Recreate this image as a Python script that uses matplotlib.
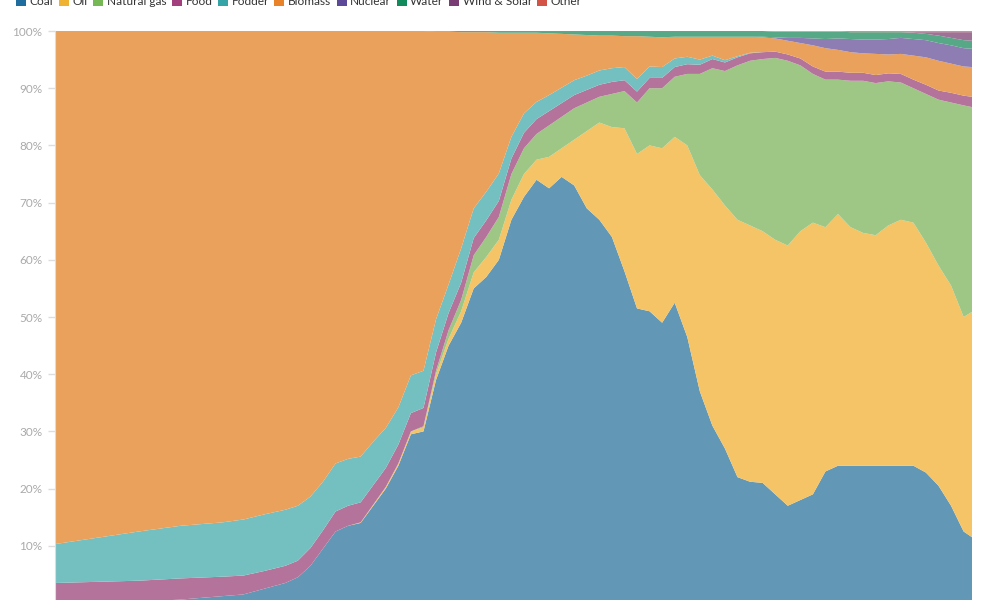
import numpy as np
import matplotlib
matplotlib.use("Agg")
import matplotlib.pyplot as plt
from matplotlib.patches import Patch
from matplotlib.ticker import FuncFormatter

plt.rcParams['font.family'] = ['Lato', 'DejaVu Sans']

# share of primary energy (%)
years = [1800, 1810, 1820, 1830, 1840, 1845, 1850, 1855, 1858,
         1861, 1864, 1867, 1870, 1873, 1876, 1879, 1882, 1885, 1888,
         1891, 1894, 1897, 1900, 1903, 1906, 1909, 1912, 1915, 1918,
         1921, 1924, 1927, 1930, 1933, 1936, 1939, 1942, 1945, 1948,
         1951, 1954, 1957, 1960, 1963, 1966, 1969, 1972, 1975, 1978,
         1981, 1984, 1987, 1990, 1993, 1996, 1999, 2002, 2005, 2008,
         2011, 2014, 2017, 2019]

coal = [0, 0.1, 0.2, 0.6, 1.2, 1.5, 2.5, 3.5, 4.5,
        6.5, 9.5, 12.5, 13.5, 14, 17, 20, 24, 29.5, 30,
        39, 45, 49, 55, 57, 60, 67, 71, 74, 72.5,
        74.5, 73, 69, 67, 64, 58, 51.5, 51, 49, 52.5,
        46.5, 37, 31, 27, 22, 21.2, 21, 19, 17, 18,
        19, 23, 24, 24, 24, 24, 24, 24, 24, 22.8,
        20.5, 17, 12.5, 11.5]
oil = [0, 0, 0, 0, 0, 0, 0, 0, 0,
       0, 0, 0, 0, 0.1, 0.2, 0.3, 0.4, 0.5, 0.7,
       1.0, 1.2, 2.0, 2.8, 3.5, 3.5, 3.5, 4.0, 3.5, 5.5,
       5.0, 8.0, 13.5, 17, 19.2, 25, 27, 29, 30.5, 29,
       33.5, 37.8, 41.3, 42.5, 45, 44.8, 44, 44.5, 45.5, 47,
       47.5, 42.7, 44, 41.7, 40.7, 40.3, 42, 43, 42.5, 40.2,
       38.5, 38.5, 37.5, 39.4]
natural_gas = [0, 0, 0, 0, 0, 0, 0, 0, 0,
               0, 0, 0, 0, 0, 0, 0, 0, 0, 0.2,
               0.6, 1.5, 2.0, 3.0, 3.5, 4.0, 4.5, 4.5, 4.5, 5.5,
               5.5, 5.5, 5.0, 4.5, 5.8, 6.5, 9.0, 10.0, 10.5, 10.5,
               12.5, 17.7, 21.2, 23.5, 27, 28.8, 30.1, 31.8, 32.3, 29,
               26, 25.8, 23.5, 25.6, 26.6, 26.6, 25.2, 24, 23.5, 26,
               29, 32, 37, 35.8]
food = [3.5, 3.6, 3.7, 3.7, 3.4, 3.3, 3.1, 3.0, 2.9,
        3.1, 3.2, 3.5, 3.5, 3.5, 3.4, 3.3, 3.3, 3.2, 3.2,
        3.2, 3.0, 3.0, 3.0, 2.9, 2.8, 2.7, 2.7, 2.6, 2.5,
        2.4, 2.3, 2.2, 2.1, 2.1, 1.9, 1.9, 1.8, 1.8, 1.7,
        1.7, 1.6, 1.6, 1.5, 1.4, 1.3, 1.2, 1.1, 1.1, 1.2,
        1.3, 1.4, 1.4, 1.4, 1.4, 1.4, 1.4, 1.5, 1.5, 1.6,
        1.6, 1.7, 1.7, 1.8]
fodder = [6.8, 7.7, 8.6, 9.2, 9.5, 9.8, 9.9, 9.8, 9.6,
          9.0, 8.5, 8.4, 8.2, 8.0, 7.6, 7.0, 6.5, 6.6, 6.5,
          5.8, 5.0, 6.0, 5.2, 5.0, 4.8, 3.8, 3.4, 3.0, 2.8,
          2.7, 2.6, 2.5, 2.5, 2.4, 2.3, 2.2, 2.0, 1.9, 1.5,
          1.3, 0.9, 0.6, 0.4, 0.2, 0.1, 0, 0, 0, 0,
          0, 0, 0, 0, 0, 0, 0, 0, 0, 0,
          0, 0, 0, 0]
biomass = [89.7, 88.6, 87.5, 86.5, 85.9, 85.4, 84.5, 83.7, 83.0,
           81.4, 78.8, 75.6, 74.8, 74.4, 71.8, 69.4, 65.8, 60.2, 59.4,
           50.3, 44.2, 37.8, 30.8, 27.9, 24.6, 18.2, 14.1, 12.1, 10.8,
           9.4, 8.0, 7.1, 6.1, 5.7, 5.4, 7.5, 5.2, 5.2, 3.8,
           3.5, 4.0, 3.3, 4.1, 3.4, 2.8, 2.6, 2.3, 2.4, 2.7,
           3.7, 4.1, 3.8, 3.6, 3.4, 3.7, 3.3, 3.5, 4.2, 4.8,
           5.2, 5.1, 5.1, 5.2]
nuclear = [0, 0, 0, 0, 0, 0, 0, 0, 0,
           0, 0, 0, 0, 0, 0, 0, 0, 0, 0,
           0, 0, 0, 0, 0, 0, 0, 0, 0, 0,
           0, 0, 0, 0, 0, 0, 0, 0, 0, 0,
           0, 0, 0, 0, 0, 0, 0.1, 0.2, 0.5, 0.9,
           1.2, 1.6, 2.0, 2.3, 2.4, 2.5, 2.7, 2.8, 2.9, 3.0,
           3.1, 3.2, 3.2, 3.2]
water = [0, 0, 0, 0, 0, 0, 0, 0, 0,
         0, 0, 0, 0, 0, 0, 0, 0, 0, 0,
         0.1, 0.1, 0.2, 0.2, 0.2, 0.3, 0.3, 0.3, 0.3, 0.4,
         0.5, 0.6, 0.7, 0.8, 0.8, 0.9, 0.9, 1.0, 1.1, 1.0,
         1.0, 1.0, 1.0, 1.0, 1.0, 1.0, 1.0, 1.0, 1.1, 1.1,
         1.2, 1.3, 1.2, 1.2, 1.3, 1.3, 1.2, 1.0, 1.1, 1.1,
         1.3, 1.3, 1.4, 1.4]
wind_solar = [0] * 57 + [0.1, 0.3, 0.6, 1.0, 1.4, 1.5]
other = [0] * 46 + [0.1] * 6 + [0.2] * 11

labels = ['Coal', 'Oil', 'Natural gas', 'Food', 'Fodder', 'Biomass',
          'Nuclear', 'Water', 'Wind & Solar', 'Other']
legend_colors = ['#1f6c9f', '#f0b232', '#76b756', '#a2407e', '#35a4a6',
                 '#e8832a', '#5c4a98', '#138a5c', '#7a3d73', '#d35446']
area_colors = ['#6297b5', '#f4c466', '#9ec785', '#b4739a', '#74c0c1',
               '#e9a15c', '#8d7db3', '#57a886', '#9e7197', '#e08b7f']

series = np.array([coal, oil, natural_gas, food, fodder, biomass,
                   nuclear, water, wind_solar, other], dtype=float)
series = series / series.sum(axis=0) * 100

fig = plt.figure(figsize=(10, 6), dpi=100)
ax = fig.add_axes([0.055, -0.005, 0.917, 0.9533])

ax.stackplot(years, series, colors=area_colors, linewidth=0)

ax.set_xlim(years[0], years[-1])
ax.set_ylim(0, 100)
ax.set_yticks(range(0, 101, 10))
ax.yaxis.set_major_formatter(FuncFormatter(lambda v, p: f"{int(v)}%"))
ax.tick_params(axis='y', length=5, width=1, color='#dddddd', pad=4,
               labelsize=8.5, labelcolor='#aaaaaa')
ax.set_xticks([])
for s in ['top', 'right', 'bottom']:
    ax.spines[s].set_visible(False)
ax.spines['left'].set_color('#dddddd')

handles = [Patch(facecolor=c, edgecolor='none') for c in legend_colors]
fig.legend(handles, labels, loc='center left', bbox_to_anchor=(0.016, 0.9967),
           ncol=10, frameon=False, fontsize=8.6, handlelength=0.85,
           handleheight=0.85, handletextpad=0.3, columnspacing=0.45,
           borderpad=0, borderaxespad=0, labelcolor='#333333')

fig.savefig('out.png', dpi=100)
